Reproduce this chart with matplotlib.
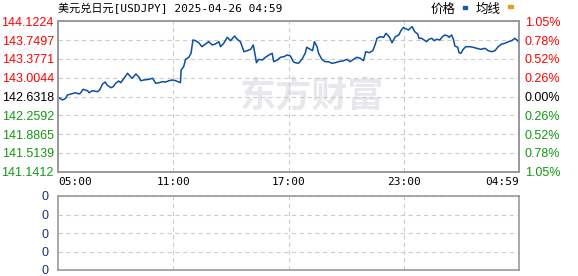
import matplotlib
matplotlib.use("Agg")
import matplotlib.pyplot as plt

# ---- data ----
minutes = [1, 14, 24, 29, 40, 55, 66, 71, 78, 92, 97, 107, 123, 130, 139, 147, 154, 165, 172, 180,
           189, 196, 206, 217, 224, 232, 243, 253, 258, 268, 284, 295, 305, 315, 326, 336, 346, 357,
           367, 382, 384, 392, 398, 408, 415, 421, 429, 439, 449, 460, 470, 481, 491, 502, 507, 517,
           528, 538, 551, 559, 569, 580, 590, 601, 609, 616, 619, 626, 637, 647, 658, 668, 673, 684,
           694, 705, 715, 725, 734, 740, 750, 761, 771, 776, 787, 794, 800, 808, 813, 823, 833, 844,
           854, 865, 875, 891, 901, 911, 922, 932, 943, 953, 960, 971, 982, 990, 995, 1005, 1016, 1023,
           1033, 1042, 1052, 1063, 1071, 1078, 1082, 1093, 1102, 1105, 1113, 1122, 1126, 1134, 1142,
           1150, 1157, 1166, 1174, 1181, 1191, 1199, 1207, 1216, 1220, 1228, 1234, 1238, 1247, 1251,
           1257, 1264, 1272, 1285, 1295, 1306, 1319, 1332, 1342, 1353, 1363, 1373, 1384, 1394, 1405,
           1415, 1425, 1434, 1438]
price = [142.616, 142.562, 142.596, 142.661, 142.681, 142.707, 142.681, 142.707, 142.774, 142.747,
         142.707, 142.747, 142.727, 142.761, 142.879, 142.919, 142.854, 142.806, 142.826, 142.893,
         142.939, 142.905, 142.993, 143.092, 143.038, 142.993, 143.078, 143.012, 142.945, 142.959,
         142.973, 142.993, 142.893, 142.905, 142.925, 142.919, 142.945, 142.959, 142.945, 142.905,
         143.157, 143.222, 143.369, 143.409, 143.488, 143.752, 143.738, 143.698, 143.619, 143.672,
         143.718, 143.653, 143.672, 143.718, 143.619, 143.686, 143.805, 143.738, 143.831, 143.766,
         143.718, 143.520, 143.540, 143.567, 143.653, 143.421, 143.302, 143.369, 143.355, 143.409,
         143.455, 143.488, 143.322, 143.355, 143.409, 143.421, 143.455, 143.435, 143.322, 143.302,
         143.290, 143.369, 143.488, 143.607, 143.567, 143.540, 143.718, 143.619, 143.488, 143.369,
         143.322, 143.322, 143.290, 143.302, 143.322, 143.341, 143.369, 143.322, 143.369, 143.409,
         143.389, 143.341, 143.520, 143.500, 143.540, 143.672, 143.785, 143.817, 143.805, 143.884,
         143.817, 143.698, 143.817, 143.851, 143.950, 144.003, 143.984, 143.950, 144.003, 144.015,
         143.916, 143.871, 143.785, 143.785, 143.752, 143.718, 143.766, 143.785, 143.738, 143.766,
         143.752, 143.817, 143.851, 143.831, 143.805, 143.851, 143.752, 143.633, 143.607, 143.500,
         143.488, 143.567, 143.619, 143.619, 143.607, 143.587, 143.567, 143.587, 143.540, 143.520,
         143.540, 143.619, 143.672, 143.686, 143.718, 143.738, 143.785, 143.738, 143.698]

prev_close = 142.6318
price_ticks = [144.1224, 143.7497, 143.3771, 143.0044, 142.6318, 142.2592, 141.8865, 141.5139, 141.1412]
pct_labels = ["1.05%", "0.78%", "0.52%", "0.26%", "0.00%", "0.26%", "0.52%", "0.78%", "1.05%"]
time_ticks = [0, 360, 720, 1080, 1439]
time_labels = ["05:00", "11:00", "17:00", "23:00", "04:59"]
vol_labels = ["0", "0", "0", "0", "0"]

RED = "#ff0000"
GREEN = "#119911"
GRID = "#cccccc"
SPINE = "#999999"
LINE = "#0b4ea2"
NUMFONT = ['Liberation Sans']

plt.rcParams['font.family'] = ['DejaVu Sans', 'Noto Sans CJK SC']

fig = plt.figure(figsize=(5.78, 2.76), dpi=100)
ax = fig.add_axes([58 / 578, 104.3 / 276, 461.3 / 578, 150.4 / 276])
axv = fig.add_axes([58 / 578, 6 / 276, 461.3 / 578, 74 / 276])

# watermark
ax.text(0.55, 0.5, "东方财富", transform=ax.transAxes, ha="center", va="center",
        fontsize=26, fontweight="bold", color="#e8e8ec", family=['Noto Sans CJK SC'], zorder=0)

ax.plot(minutes, price, color=LINE, lw=1.1, zorder=3)

ax.set_xlim(0, 1439)
ax.set_ylim(price_ticks[-1], price_ticks[0])
ax.set_yticks(price_ticks)
ax.set_yticklabels(["%.4f" % v for v in price_ticks], fontsize=9, family=NUMFONT)
for lab, v in zip(ax.get_yticklabels(), price_ticks):
    lab.set_color(RED if v > prev_close + 1e-6 else ("black" if abs(v - prev_close) < 1e-6 else GREEN))
ax.set_xticks(time_ticks)
ax.set_xticklabels(time_labels, fontsize=8, family=['DejaVu Sans Mono'])
xl = ax.get_xticklabels()
xl[0].set_ha("left")
xl[-1].set_ha("right")
ax.tick_params(axis="y", length=0, pad=3)
ax.tick_params(axis="x", length=0, pad=4)
ax.grid(True, color=GRID, ls=(0, (4, 3)), lw=0.8)

# right percentage axis
ax2 = ax.twinx()
ax2.set_ylim(ax.get_ylim())
ax2.set_yticks(price_ticks)
ax2.set_yticklabels(pct_labels, fontsize=9, family=NUMFONT)
for lab, v in zip(ax2.get_yticklabels(), price_ticks):
    lab.set_color(RED if v > prev_close + 1e-6 else ("black" if abs(v - prev_close) < 1e-6 else GREEN))
ax2.tick_params(length=0, pad=4)

for a in (ax, ax2, axv):
    for s in a.spines.values():
        s.set_color(SPINE)
        s.set_linewidth(1.2)

# volume panel (empty)
axv.set_xlim(0, 1439)
axv.set_ylim(0, 4)
axv.set_yticks([0, 1, 2, 3, 4])
axv.set_yticklabels(vol_labels, fontsize=9, color="#1a2f80", family=NUMFONT)
axv.set_xticks(time_ticks[1:-1])
axv.set_xticklabels([])
axv.tick_params(length=0, pad=7)
axv.grid(True, color=GRID, ls=(0, (4, 3)), lw=0.8)

# title and legend
fig.text(58 / 578, 1 - 8 / 276, "美元兑日元[USDJPY] 2025-04-26 04:59", ha="left", va="center",
         fontsize=8, family=['DejaVu Sans Mono', 'Noto Sans CJK SC'])
fig.text(431 / 578, 1 - 9 / 276, "价格", ha="left", va="center", fontsize=9, family=['Noto Sans CJK SC'])
fig.text(476 / 578, 1 - 9 / 276, "均线", ha="left", va="center", fontsize=9, family=['Noto Sans CJK SC'])
fig.patches.append(plt.Rectangle((463 / 578, 1 - 9 / 276), 4 / 578, 2.5 / 276,
                                 transform=fig.transFigure, color="#1a5aa8"))
fig.patches.append(plt.Rectangle((508 / 578, 1 - 8 / 276), 5 / 578, 2.5 / 276,
                                 transform=fig.transFigure, color="#e0a020"))

fig.savefig("out.png", dpi=100)
